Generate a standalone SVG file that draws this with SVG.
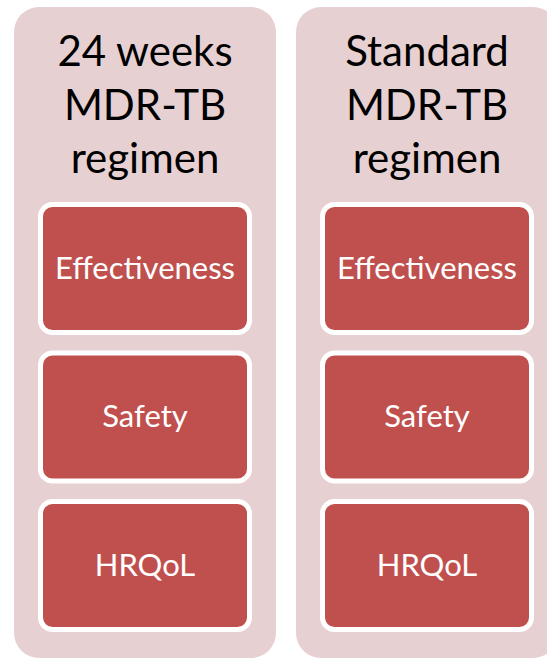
<svg xmlns="http://www.w3.org/2000/svg" width="547" height="660" viewBox="0 0 547 660">
<style>
.outer{fill:#e7d0d1;}
.inner{fill:#c0504d;stroke:#ffffff;stroke-width:5;}
.hdr{font-family:Lato,"Open Sans","Liberation Sans",sans-serif;font-size:42px;fill:#000000;text-anchor:middle;}
.lbl{font-family:Lato,"Open Sans","Liberation Sans",sans-serif;font-size:31px;fill:#ffffff;text-anchor:middle;}
</style>
<rect width="547" height="660" fill="#ffffff"/>
<g id="col-24weeks">
<rect class="outer" x="14" y="7" width="262" height="651" rx="25"/>
<text class="hdr" x="145" y="66">24 weeks</text>
<text class="hdr" x="145" y="120">MDR-TB</text>
<text class="hdr" x="145" y="173">regimen</text>
</g>
<g id="col-standard">
<rect class="outer" x="296" y="7" width="262" height="651" rx="25"/>
<text class="hdr" x="427" y="66">Standard</text>
<text class="hdr" x="427" y="120">MDR-TB</text>
<text class="hdr" x="427" y="173">regimen</text>
</g>
<g id="l-effectiveness"><rect class="inner" x="40.5" y="204.5" width="209" height="128" rx="12"/><text class="lbl" x="145" y="279">Effectiveness</text></g>
<g id="l-safety"><rect class="inner" x="40.5" y="353" width="209" height="128" rx="12"/><text class="lbl" x="145" y="427">Safety</text></g>
<g id="l-hrqol"><rect class="inner" x="40.5" y="501.5" width="209" height="128" rx="12"/><text class="lbl" x="145" y="576">HRQoL</text></g>
<g id="r-effectiveness"><rect class="inner" x="322.5" y="204.5" width="209" height="128" rx="12"/><text class="lbl" x="427" y="279">Effectiveness</text></g>
<g id="r-safety"><rect class="inner" x="322.5" y="353" width="209" height="128" rx="12"/><text class="lbl" x="427" y="427">Safety</text></g>
<g id="r-hrqol"><rect class="inner" x="322.5" y="501.5" width="209" height="128" rx="12"/><text class="lbl" x="427" y="576">HRQoL</text></g>
<g id="connectors"></g>
</svg>
